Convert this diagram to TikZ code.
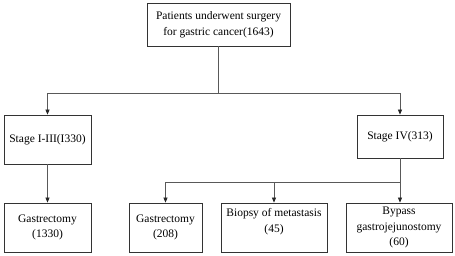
\documentclass[tikz,border=0pt]{standalone}
\usepackage{fontspec}
\setmainfont{Liberation Serif}
\usetikzlibrary{arrows.meta}
\begin{document}
\begin{tikzpicture}[x=1pt,y=-1pt,
  box/.style={draw=black!80, line width=0.8pt, rectangle, align=center, inner sep=0pt,
    font=\fontsize{11.5}{15.5}\selectfont},
  conn/.style={draw=black!65, line width=0.7pt},
  arr/.style={conn, -{Triangle[length=5pt,width=4pt,color=black!85]}}]
\useasboundingbox[fill=white] (0,0) rectangle (455,255);
\node[box, minimum width=143pt, minimum height=43pt] (top) at (218.5,24.5) {Patients underwent surgery\\for gastric cancer(1643)};
\node[box, minimum width=87pt, minimum height=49pt] (s1) at (47.5,139.5) {Stage I-III(I330)};
\node[box, minimum width=86pt, minimum height=43pt] (s4) at (400,136.5) {Stage IV(313)};
\node[box, minimum width=87pt, minimum height=49pt] (b1) at (47.5,227.5) {Gastrectomy\\(1330)};
\node[box, minimum width=73pt, minimum height=49pt] (b2) at (165.5,227.5) {Gastrectomy\\(208)};
\node[box, minimum width=106pt, minimum height=49pt] (b3) at (274,227.5) {};
\node[anchor=center, align=center, inner sep=0pt, font=\fontsize{11.5}{15.5}\selectfont] (b3t) at (274,221.5) {Biopsy of metastasis\\(45)};
\node[box, minimum width=106pt, minimum height=49pt] (b4) at (399,227.5) {Bypass\\gastrojejunostomy\\(60)};
\coordinate (j1) at (218.5,93);
\coordinate (j1l) at (47.5,93);
\coordinate (j1r) at (400,93);
\coordinate (j2) at (400,182);
\coordinate (j2l) at (165.5,182);
\coordinate (j2m) at (274,182);
\draw[conn] (top.south) -- (j1);
\draw[conn] (j1l) -- (j1r);
\draw[arr] (j1l) -- (s1.north);
\draw[arr] (j1r) -- (s4.north);
\draw[arr] (s1.south) -- (b1.north);
\draw[conn] (s4.south) -- (j2);
\draw[conn] (j2l) -- (j2);
\draw[arr] (j2) -- (b4.north -| j2);
\draw[arr] (j2l) -- (b2.north);
\draw[arr] (j2m) -- (b3.north);
\end{tikzpicture}
\end{document}
